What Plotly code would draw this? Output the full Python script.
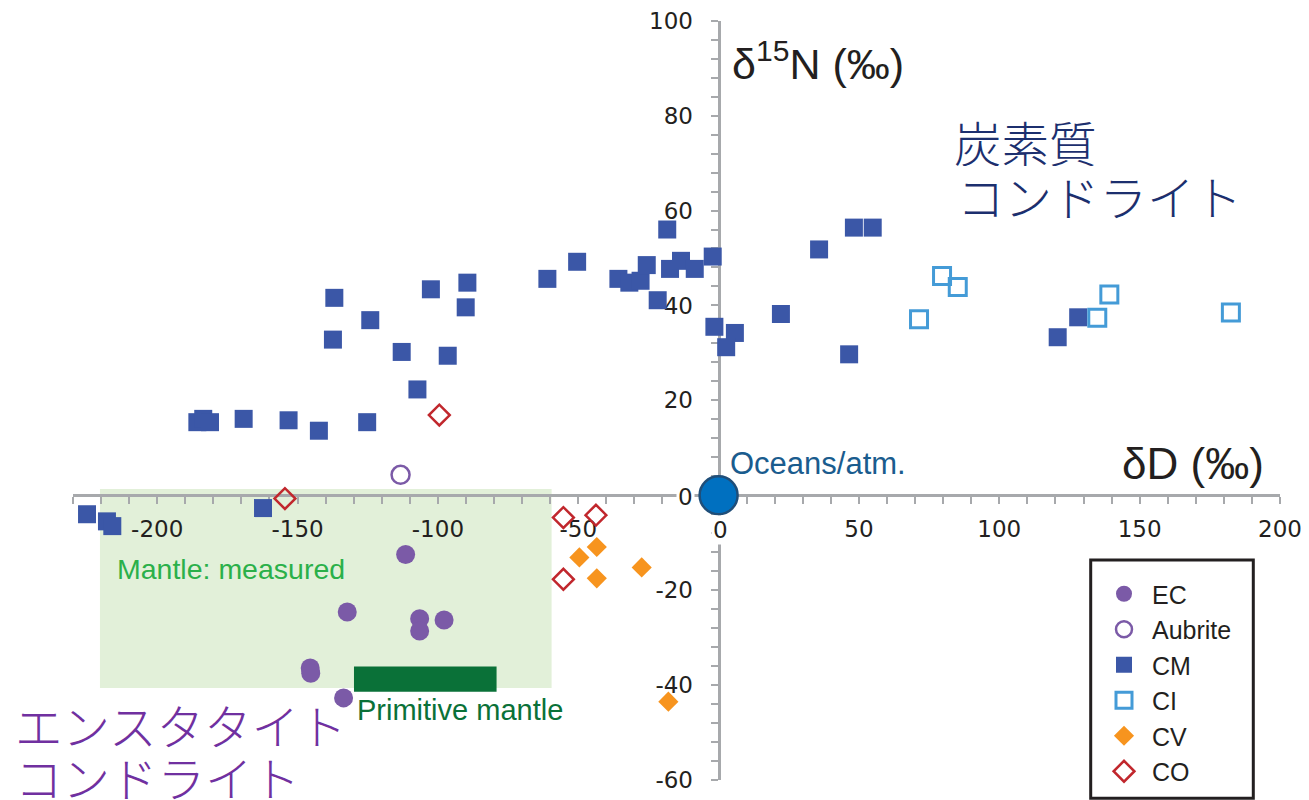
import plotly.graph_objects as go

W, H = 1309, 800

# axis frame (data ranges and where they sit on the page)
X_RANGE = [-230, 200]
Y_RANGE = [-60, 100]
X_DOMAIN = [73 / W, 1280 / W]
Y_DOMAIN = [1 - 780 / H, 1 - 20.7 / H]

# ---- data: δD (‰) vs δ15N (‰) ----
ec_x = [-111.5, -132.3, -106.5, -106.5, -97.8, -145.5, -145.3, -133.6]
ec_y = [-12.5, -24.6, -26.0, -28.6, -26.3, -36.4, -37.5, -42.7]

aubrite_x = [-113.3]
aubrite_y = [4.3]

cm_x = [-225.0, -217.9, -216.0, -162.3, -185.7, -183.6, -181.2, -169.2, -153.2,
        -142.4, -125.2, -136.9, -124.1, -137.4, -112.9, -96.5, -107.3, -102.5,
        -89.5, -90.1, -61.0, -50.4, -35.7, -31.8, -27.8, -25.6, -18.3, -17.3,
        -13.4, -8.5, -2.1, -21.7, -1.5, 5.8, 2.7, 22.2, 35.8, 48.2, 54.9, 46.5,
        128.1, 120.8]
cm_y = [-4.0, -5.5, -6.5, -2.7, 15.4, 16.1, 15.4, 16.1, 15.8,
        13.6, 15.4, 41.6, 36.9, 32.8, 30.2, 29.4, 22.3, 43.4,
        44.8, 39.6, 45.6, 49.2, 45.6, 44.8, 45.2, 48.5, 56.0, 47.7,
        49.4, 47.7, 50.3, 41.1, 35.5, 34.2, 31.2, 38.2, 51.8, 56.4, 56.4, 29.7,
        37.5, 33.3]

ci_x = [71.4, 79.6, 85.2, 139.2, 134.9, 182.5]
ci_y = [37.1, 46.2, 43.9, 42.3, 37.4, 38.5]

cv_x = [-43.4, -49.6, -43.4, -27.4, -17.9]
cv_y = [-10.9, -13.1, -17.5, -15.2, -43.5]

co_x = [-154.5, -99.5, -55.3, -43.7, -55.3]
co_y = [-0.7, 16.9, -4.7, -4.2, -17.7]

ocean_x = [0]
ocean_y = [0]

# reservoir fields
mantle_measured_x = [-220.4, -59.5]
mantle_measured_y = [-40.6, 1.3]
primitive_mantle_x = [-129.9, -79.1]
primitive_mantle_y = [-41.4, -36.1]

# labelled ticks (zero is written separately on a white backing)
x_tick_vals = [-200, -150, -100, -50, 50, 100, 150, 200]
x_tick_text = ["-200", "-150", "-100", "-50", "50", "100", "150", "200"]
y_tick_vals = [-60, -40, -20, 20, 40, 60, 80, 100]
y_tick_text = ["-60", "-40", "-20", "20", "40", "60", "80", "100"]

LATIN = "Liberation Sans"
CJK = "Noto Sans CJK JP"
TICKFONT = "DejaVu Sans"
AXIS_GREY = "#A7A9AC"
TICK_SIZE = 23


def px(xp):
    return xp / W


def py(yp):
    return 1 - yp / H


fig = go.Figure()

series = [
    ("EC", ec_x, ec_y, dict(symbol="circle", size=19, color="#7B5AA7",
                           line=dict(width=0))),
    ("Aubrite", aubrite_x, aubrite_y, dict(symbol="circle-open", size=18,
                                           color="#7B5AA7", line=dict(width=2.5))),
    ("CM", cm_x, cm_y, dict(symbol="square", size=18, color="#3B57A7",
                           line=dict(width=0))),
    ("CI", ci_x, ci_y, dict(symbol="square-open", size=17, color="#449BD7",
                           line=dict(width=3))),
    ("CV", cv_x, cv_y, dict(symbol="diamond", size=15.5, color="#F7941E",
                           line=dict(width=0))),
    ("CO", co_x, co_y, dict(symbol="diamond-open", size=16, color="#C1272D",
                           line=dict(width=2.5))),
]

for name, xs, ys, marker in series:
    fig.add_trace(go.Scatter(
        x=xs, y=ys, mode="markers", name=name, marker=marker,
        legendgroup=name, cliponaxis=False, hoverinfo="x+y+name"))

fig.add_trace(go.Scatter(
    x=ocean_x, y=ocean_y, mode="markers", showlegend=False, cliponaxis=False,
    marker=dict(symbol="circle", size=38, color="#0070C0",
                line=dict(width=2.5, color="#1F4E79"))))

shapes = [
    dict(type="rect", xref="x", yref="y", layer="below",
         x0=mantle_measured_x[0], x1=mantle_measured_x[1],
         y0=mantle_measured_y[0], y1=mantle_measured_y[1],
         fillcolor="#E2F0D9", line=dict(width=0)),
    dict(type="rect", xref="x", yref="y", layer="below",
         x0=primitive_mantle_x[0], x1=primitive_mantle_x[1],
         y0=primitive_mantle_y[0], y1=primitive_mantle_y[1],
         fillcolor="#0A7138", line=dict(width=0)),
    # legend frame
    dict(type="rect", xref="paper", yref="paper", layer="below",
         x0=px(1090.7), x1=px(1253.3), y0=py(798.3), y1=py(560),
         fillcolor="white", line=dict(width=3, color="#231F20")),
]


def note(text, x, y, size, color, family=LATIN, xanchor="left", **kw):
    font = dict(family=family, size=size, color=color)
    if "weight" in kw:
        font["weight"] = kw.pop("weight")
    return dict(text=text, x=px(x), y=py(y), xref="paper", yref="paper",
                xanchor=xanchor, yanchor="middle", showarrow=False,
                font=font, **kw)


annotations = [
    note("Mantle: measured", 115, 569, 28.5, "#2BB04A"),
    note("Primitive mantle", 355, 710, 29, "#0A7138"),
    note("Oceans/atm.", 728, 463, 31, "#1A5C8E"),
    note("δD (‰)", 1120, 463, 44, "#231F20"),
    note("δ<sup>15</sup>N (‰)", 730, 61, 43, "#231F20"),
    note("炭素質", 952, 141, 47.5, "#1C2F6E", family=CJK, height=50, weight=300),
    note("コンドライト", 955, 195, 47.5, "#1C2F6E", family=CJK, height=50, weight=300),
    note("エンスタタイト", 13, 724, 47.5, "#7030A0", family=CJK, height=50, weight=300),
    note("コンドライト", 13, 776, 47.5, "#7030A0", family=CJK, height=50, weight=300),
    note("0", 720, 530, TICK_SIZE, "#231F20", family=TICKFONT, xanchor="center",
         bgcolor="white"),
    note("0", 695, 497, TICK_SIZE, "#231F20", family=TICKFONT, xanchor="right",
         bgcolor="white"),
]

# where each axis crosses the other (zero of the partner axis)
x_axis_pos = Y_DOMAIN[0] + (0 - Y_RANGE[0]) / (Y_RANGE[1] - Y_RANGE[0]) * (Y_DOMAIN[1] - Y_DOMAIN[0])
y_axis_pos = X_DOMAIN[0] + (0 - X_RANGE[0]) / (X_RANGE[1] - X_RANGE[0]) * (X_DOMAIN[1] - X_DOMAIN[0])

common_axis = dict(
    showgrid=False, zeroline=False, showline=True, linecolor=AXIS_GREY,
    linewidth=3, ticks="outside", ticklen=7, tickwidth=2, tickcolor=AXIS_GREY,
    tickmode="array", anchor="free", layer="below traces",
    tickfont=dict(family=TICKFONT, size=TICK_SIZE, color="#231F20"),
)

fig.update_layout(
    width=W, height=H,
    margin=dict(l=0, r=0, t=0, b=0, autoexpand=False),
    paper_bgcolor="white", plot_bgcolor="rgba(0,0,0,0)",
    xaxis=dict(common_axis, range=X_RANGE, domain=X_DOMAIN,
               position=x_axis_pos, tickvals=x_tick_vals, ticktext=x_tick_text,
               ticklabelstandoff=5,
               minor=dict(tick0=0, dtick=10, ticks="outside", ticklen=7,
                          tickwidth=2, tickcolor=AXIS_GREY)),
    yaxis=dict(common_axis, range=Y_RANGE, domain=Y_DOMAIN,
               position=y_axis_pos, tickvals=y_tick_vals, ticktext=y_tick_text,
               ticklabelstandoff=13,
               minor=dict(tick0=0, dtick=4, ticks="outside", ticklen=7,
                          tickwidth=2, tickcolor=AXIS_GREY)),
    shapes=shapes,
    annotations=annotations,
    showlegend=True,
    legend=dict(x=px(1096), y=py(571), xanchor="left", yanchor="top",
                bgcolor="rgba(0,0,0,0)", borderwidth=0, tracegroupgap=0,
                itemwidth=46,
                font=dict(family=LATIN, size=25, color="#231F20")),
)

fig.write_html("out.html")
